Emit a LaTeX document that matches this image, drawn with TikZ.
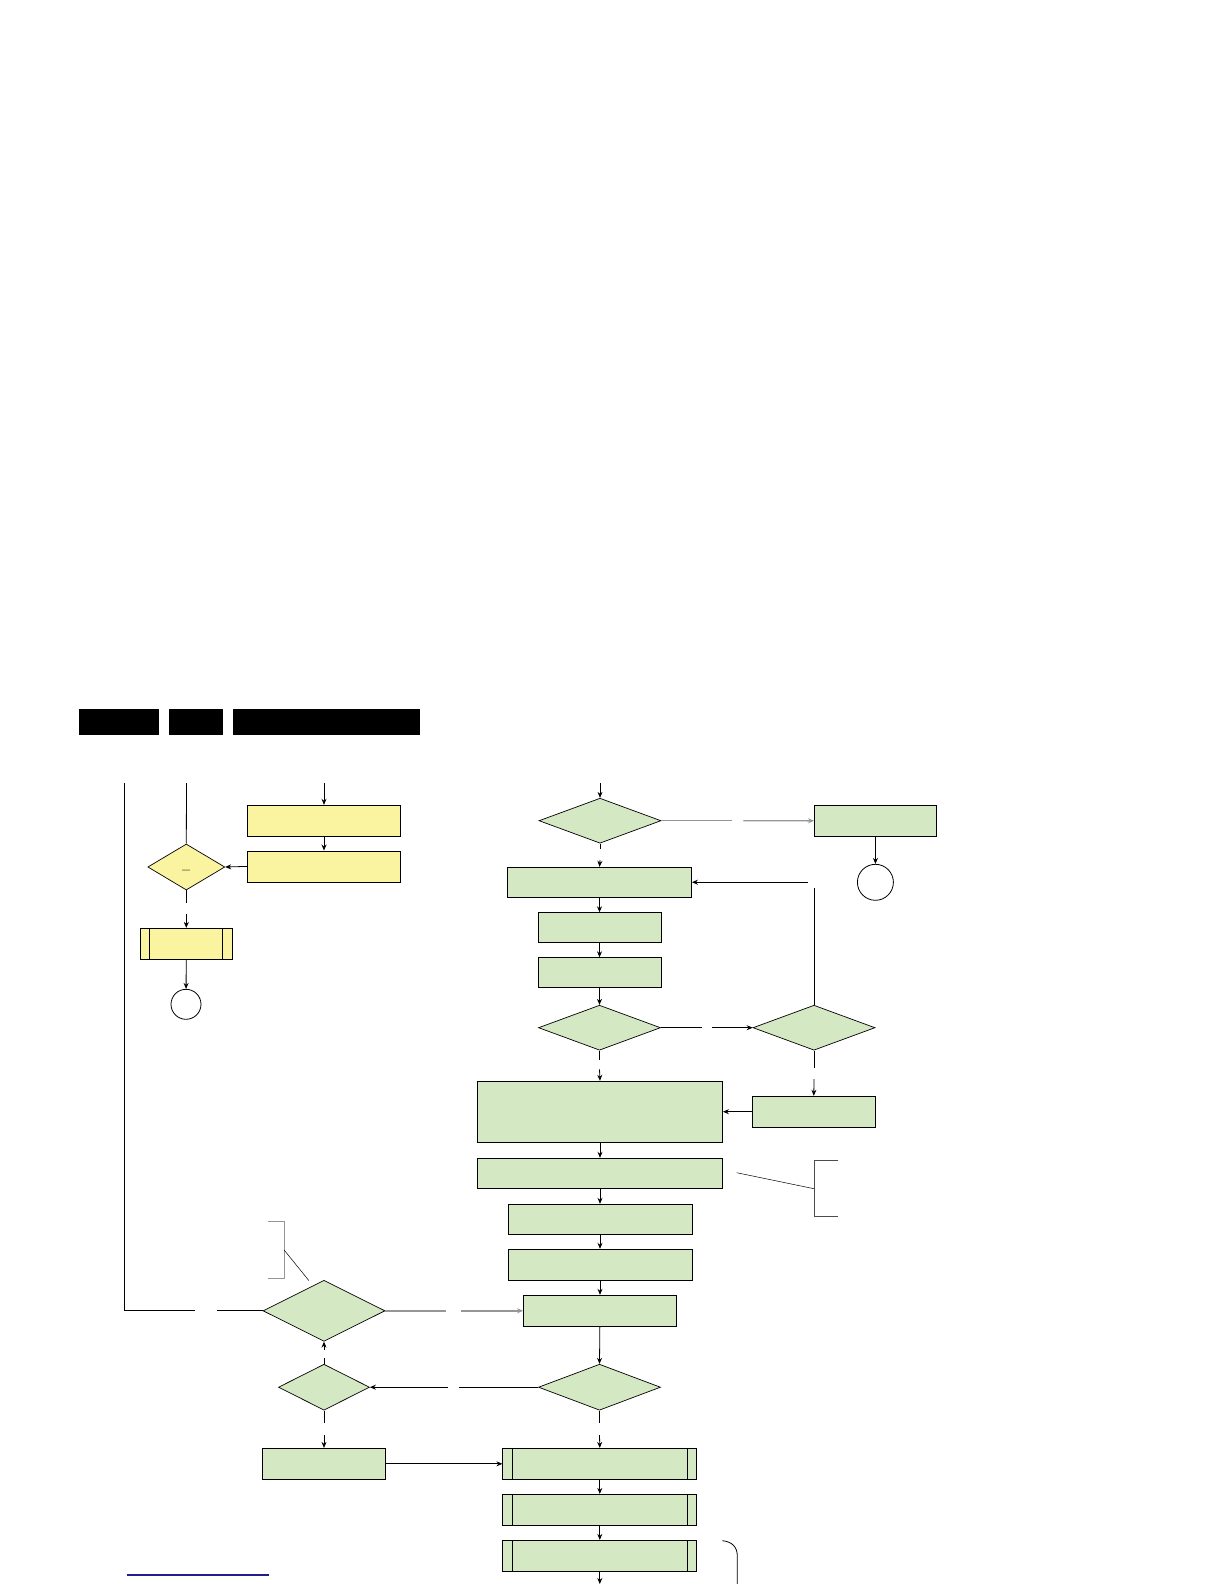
\documentclass[tikz,border=0pt]{standalone}
\usetikzlibrary{positioning, arrows.meta, shapes.geometric}

\definecolor{flowgreen}{RGB}{213,232,196}
\definecolor{flowyellow}{RGB}{250,244,160}
\definecolor{linegray}{RGB}{150,150,150}
\definecolor{linknavy}{RGB}{30,30,140}

\begin{document}
\begin{tikzpicture}[
  x=1pt, y=-1pt,
  >={Stealth[length=6pt,width=5pt]},
  line width=0.8pt,
  % --- node styles ---
  box/.style={
    draw, fill=flowgreen, inner sep=0pt, minimum height=31pt
  },
  ybox/.style={
    box, fill=flowyellow
  },
  dec/.style={
    diamond, draw, fill=flowgreen, inner sep=0pt, line width=0.7pt,
    minimum width=122pt, minimum height=45pt
  },
  ydec/.style={
    dec, fill=flowyellow
  },
  sub/.style={
    box, path picture={
      \draw ([xshift=9.5pt]path picture bounding box.north west)
        -- ([xshift=9.5pt]path picture bounding box.south west);
      \draw ([xshift=-9.5pt]path picture bounding box.north east)
        -- ([xshift=-9.5pt]path picture bounding box.south east);}
  },
  ysub/.style={
    sub, fill=flowyellow
  },
  conn/.style={
    circle, draw, fill=white, inner sep=0pt
  },
  hdr/.style={
    fill=black, inner sep=0pt, minimum height=26pt
  },
  arr/.style={->},
  garr/.style={draw=linegray, line width=1.4pt},
  note/.style={line width=0.5pt},
]
\useasboundingbox (0,0) rectangle (1224,1584);

% ══════════════════════════════════════════════
% HEADER BARS
% ══════════════════════════════════════════════

\node[hdr, minimum width=80pt] (hd1) at (119,722) {};
\node[hdr, minimum width=54pt] (hd2) at (196,722) {};
\node[hdr, minimum width=187pt] (hd3) at (326.5,722) {};

% ══════════════════════════════════════════════
% YELLOW BRANCH (left)
% ══════════════════════════════════════════════

\node[ybox, minimum width=153pt] (y1) at (324,820.7) {};
\node[ybox, minimum width=153pt, below=13.9pt of y1] (y2) {};
\node[ydec, minimum width=77pt, minimum height=46pt, font=\Large\bfseries] (yd) at (186.3,867)
  {\smash{\raisebox{-7pt}{--}}};
\node[ysub, minimum width=92pt] (ycall) at (186.3,943.8) {};
\node[conn, minimum size=30pt] (yend) at (186,1004.3) {};

% ══════════════════════════════════════════════
% MAIN COLUMN
% ══════════════════════════════════════════════

\node[dec] (d1) at (600,820.7) {};
\node[box, minimum width=122pt] (r1) at (875.5,820.8) {};
\node[conn, minimum size=36pt] (rend) at (875.4,882.3) {};

\node[box, minimum width=184pt, minimum height=30pt] (bA) at (599.5,882.2) {};
\node[box, minimum width=123pt, minimum height=30pt, below=14.7pt of bA] (bB) {};
\node[box, minimum width=123pt, minimum height=30pt, below=14.2pt of bB] (bC) {};

\node[dec] (d2) at (599.5,1027.7) {};
\node[dec] (d3) at (814,1027.7) {};

\node[box, minimum width=245pt, minimum height=61pt] (bD) at (600,1111.7) {};
\node[box, minimum width=123pt] (bE) at (813.8,1111.7) {};
\node[box, minimum width=245pt, minimum height=30pt, below=15.2pt of bD] (bF) {};
\node[box, minimum width=184pt, minimum height=30pt, below=15.2pt of bF] (bG) {};
\node[box, minimum width=184pt, below=14.2pt of bG] (bH) {};
\node[box, minimum width=153pt, below=14.2pt of bH] (bI) {};

\node[dec, minimum height=61pt] (d4) at (324,1310.8) {};
\node[dec, minimum height=46pt] (d5) at (599.5,1387.2) {};
\node[dec, minimum width=91pt, minimum height=46pt] (d6) at (324,1387.2) {};

\node[box, minimum width=123pt] (bJ) at (324,1463.8) {};
\node[sub, minimum width=194pt] (sK) at (599.8,1463.8) {};
\node[sub, minimum width=194pt, below=14.2pt of sK] (sL) {};
\node[sub, minimum width=194pt, below=14.2pt of sL] (sM) {};

% ══════════════════════════════════════════════
% FREE ENDS AND LABEL GAPS
% ══════════════════════════════════════════════

\coordinate (inX) at (124.5,783);
\coordinate (inL) at (186.5,783);
\coordinate (inY) at (324,783);
\coordinate (inD) at (600,783);
\coordinate (outM) at (599.8,1584);

\coordinate (g1a) at (731.7,820.7);   \coordinate (g1b) at (743.3,820.7);
\coordinate (g2a) at (600,849.3);     \coordinate (g2b) at (600,860);
\coordinate (g3a) at (186.3,903.3);   \coordinate (g3b) at (186.3,914);
\coordinate (g4a) at (701.7,1027.7);  \coordinate (g4b) at (712.3,1027.7);
\coordinate (g5a) at (599.5,1060);    \coordinate (g5b) at (599.5,1069.3);
\coordinate (g6a) at (814,1068.3);    \coordinate (g6b) at (814,1079);
\coordinate (g7a) at (814,888);       \coordinate (g7b) at (808.3,882.2);
\coordinate (g8a) at (217.2,1310.8);  \coordinate (g8b) at (195,1310.8);
\coordinate (g8c) at (124.5,1310.8);
\coordinate (g9a) at (446,1310.8);    \coordinate (g9b) at (461.3,1310.8);
\coordinate (g10a) at (459,1387.2);   \coordinate (g10b) at (447.5,1387.2);
\coordinate (g11a) at (324,1358.3);   \coordinate (g11b) at (324,1349.5);
\coordinate (g12a) at (599.5,1423.3); \coordinate (g12b) at (599.5,1435);
\coordinate (g13a) at (324,1423.3);   \coordinate (g13b) at (324,1435);

% ══════════════════════════════════════════════
% FLOW ARROWS
% ══════════════════════════════════════════════

% yellow branch
\draw[arr] (inY) -- (y1);
\draw[arr] (y1) -- (y2);
\draw[arr] (y2.west) -- (yd.east);
\draw (inL) -- (yd.north);
\draw (yd.south) -- (g3a);
\draw[arr] (g3b) -- (ycall.north);
\draw[arr] (ycall) -- (yend);

% main column
\draw[arr] (inD) -- (d1.north);
\draw[garr] (d1.east) -- (g1a);
\draw[garr, ->] (g1b) -- (r1.west);
\draw[arr] (r1) -- (rend);
\draw (d1.south) -- (g2a);
\draw[arr] (g2b) -- (bA.north);
\draw[arr] (bA) -- (bB);
\draw[arr] (bB) -- (bC);
\draw[arr] (bC) -- (d2.north);
\draw (d2.east) -- (g4a);
\draw[arr] (g4b) -- (d3.west);
\draw (d3.north) -- (g7a);
\draw[arr] (g7b) -- (bA.east);
\draw (d2.south) -- (g5a);
\draw[arr] (g5b) -- (bD.north);
\draw (d3.south) -- (g6a);
\draw[arr] (g6b) -- (bE.north);
\draw[arr] (bE.west) -- (bD.east);
\draw[arr] (bD) -- (bF);
\draw[arr] (bF) -- (bG);
\draw[arr] (bG) -- (bH);
\draw[arr] (bH) -- (bI);
\draw[arr] (bI) -- (d5.north);

% loop back on the left
\draw (d4.west) -- (g8a);
\draw (g8b) -- (g8c) -- (inX);
\draw[garr] (d4.east) -- (g9a);
\draw[garr, ->] (g9b) -- (g9b -| bI.west);
\draw (d5.west) -- (g10a);
\draw[arr] (g10b) -- (d6.east);
\draw (d6.north) -- (g11a);
\draw[arr] (g11b) -- (d4.south);

% bottom
\draw (d5.south) -- (g12a);
\draw[arr] (g12b) -- (sK.north);
\draw (d6.south) -- (g13a);
\draw[arr] (g13b) -- (bJ.north);
\draw[arr] (bJ.east) -- (sK.west);
\draw[arr] (sK) -- (sL);
\draw[arr] (sL) -- (sM);
\draw[arr] (sM) -- (outM);

% ══════════════════════════════════════════════
% ANNOTATIONS
% ══════════════════════════════════════════════

\draw[note] (736.7,1172.7) -- (814,1188.7);
\draw[black!70] (838.3,1160.3) -- (814,1160.3) -- (814,1216.3) -- (838.3,1216.3);

\draw[linegray, line width=1pt] (267.7,1221.7) -- (284.1,1221.7) -- (284.1,1278) -- (267.7,1278);
\draw[note] (284.1,1250) -- (309,1280.7);

\draw (722.3,1540.7) .. controls (732,1541.5) and (737.3,1547) .. (737.3,1556) -- (737.3,1584);

\draw[linknavy, line width=1.5pt] (126.7,1575) -- (269.3,1575);

\end{tikzpicture}
\end{document}
